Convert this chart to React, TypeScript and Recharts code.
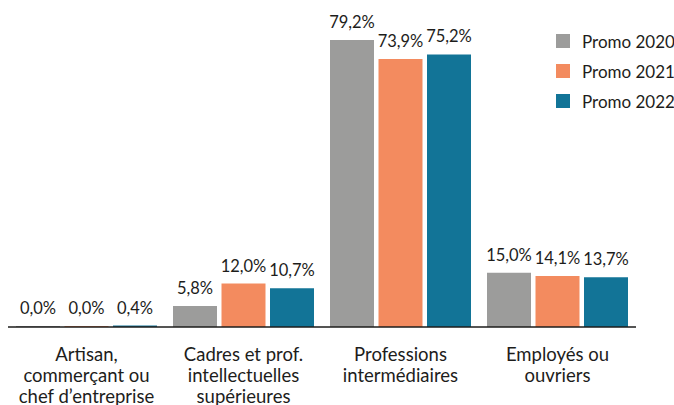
import React from 'react';
import { BarChart, Bar, XAxis, YAxis, LabelList } from 'recharts';

const categories = ['artisan', 'cadres', 'intermediaires', 'employes'];
const tickLines: string[][] = [
  ['Artisan,', 'commerçant ou', 'chef d’entreprise'],
  ['Cadres et prof.', 'intellectuelles', 'supérieures'],
  ['Professions', 'intermédiaires'],
  ['Employés ou', 'ouvriers'],
];
const promo2020 = [0.0, 5.8, 79.2, 15.0];
const promo2021 = [0.0, 12.0, 73.9, 14.1];
const promo2022 = [0.4, 10.7, 75.2, 13.7];

const seriesKeys = ['p2020', 'p2021', 'p2022'];
const seriesNames = ['Promo 2020', 'Promo 2021', 'Promo 2022'];
const seriesColors = ['#9c9c9b', '#f38b5f', '#127497'];

const data = categories.map((c, i) => ({
  cat: c,
  p2020: promo2020[i],
  p2021: promo2021[i],
  p2022: promo2022[i],
}));

const TEXT = '#1d1d1b';
const FONT = 'Lato, sans-serif';

const fmt = (v: any) => Number(v).toFixed(1).replace('.', ',') + '%';

const CatTick = ({ x, y, payload }: any) => {
  const lines = tickLines[payload.index] || [];
  return (
    <text x={x} y={y} textAnchor="middle" fill={TEXT} fontSize={18.5} fontFamily={FONT}>
      {lines.map((l, i) => (
        <tspan key={i} x={x} dy={i === 0 ? 26 : 21}>
          {l}
        </tspan>
      ))}
    </text>
  );
};

export default function App() {
  return (
    <div style={{ position: 'absolute', left: 0, top: 0, width: 674, height: 405, background: '#fff' }}>
      <BarChart
        width={674}
        height={405}
        data={data}
        margin={{ top: 37, right: 38, left: 8, bottom: 0 }}
        barCategoryGap={8}
        barGap={4.5}
      >
        <XAxis
          dataKey="cat"
          height={78}
          tickLine={false}
          axisLine={{ stroke: TEXT, strokeWidth: 1.5 }}
          interval={0}
          tick={<CatTick />}
        />
        <YAxis hide domain={[0, 80]} />
        {seriesKeys.map((k, i) => (
          <Bar key={k} dataKey={k} name={seriesNames[i]} fill={seriesColors[i]} minPointSize={1} isAnimationActive={false}>
            <LabelList dataKey={k} position="top" offset={12} formatter={fmt} fill={TEXT} fontSize={16.5} fontFamily={FONT} />
          </Bar>
        ))}
      </BarChart>
      <div style={{ position: 'absolute', left: 556, top: 26, fontFamily: FONT }}>
        {seriesNames.map((n, i) => (
          <div key={n} style={{ display: 'flex', alignItems: 'center', height: 30 }}>
            <span style={{ width: 14, height: 14, background: seriesColors[i], display: 'inline-block', marginRight: 12 }} />
            <span style={{ fontSize: 17, color: TEXT, whiteSpace: 'nowrap' }}>{n}</span>
          </div>
        ))}
      </div>
    </div>
  );
}
